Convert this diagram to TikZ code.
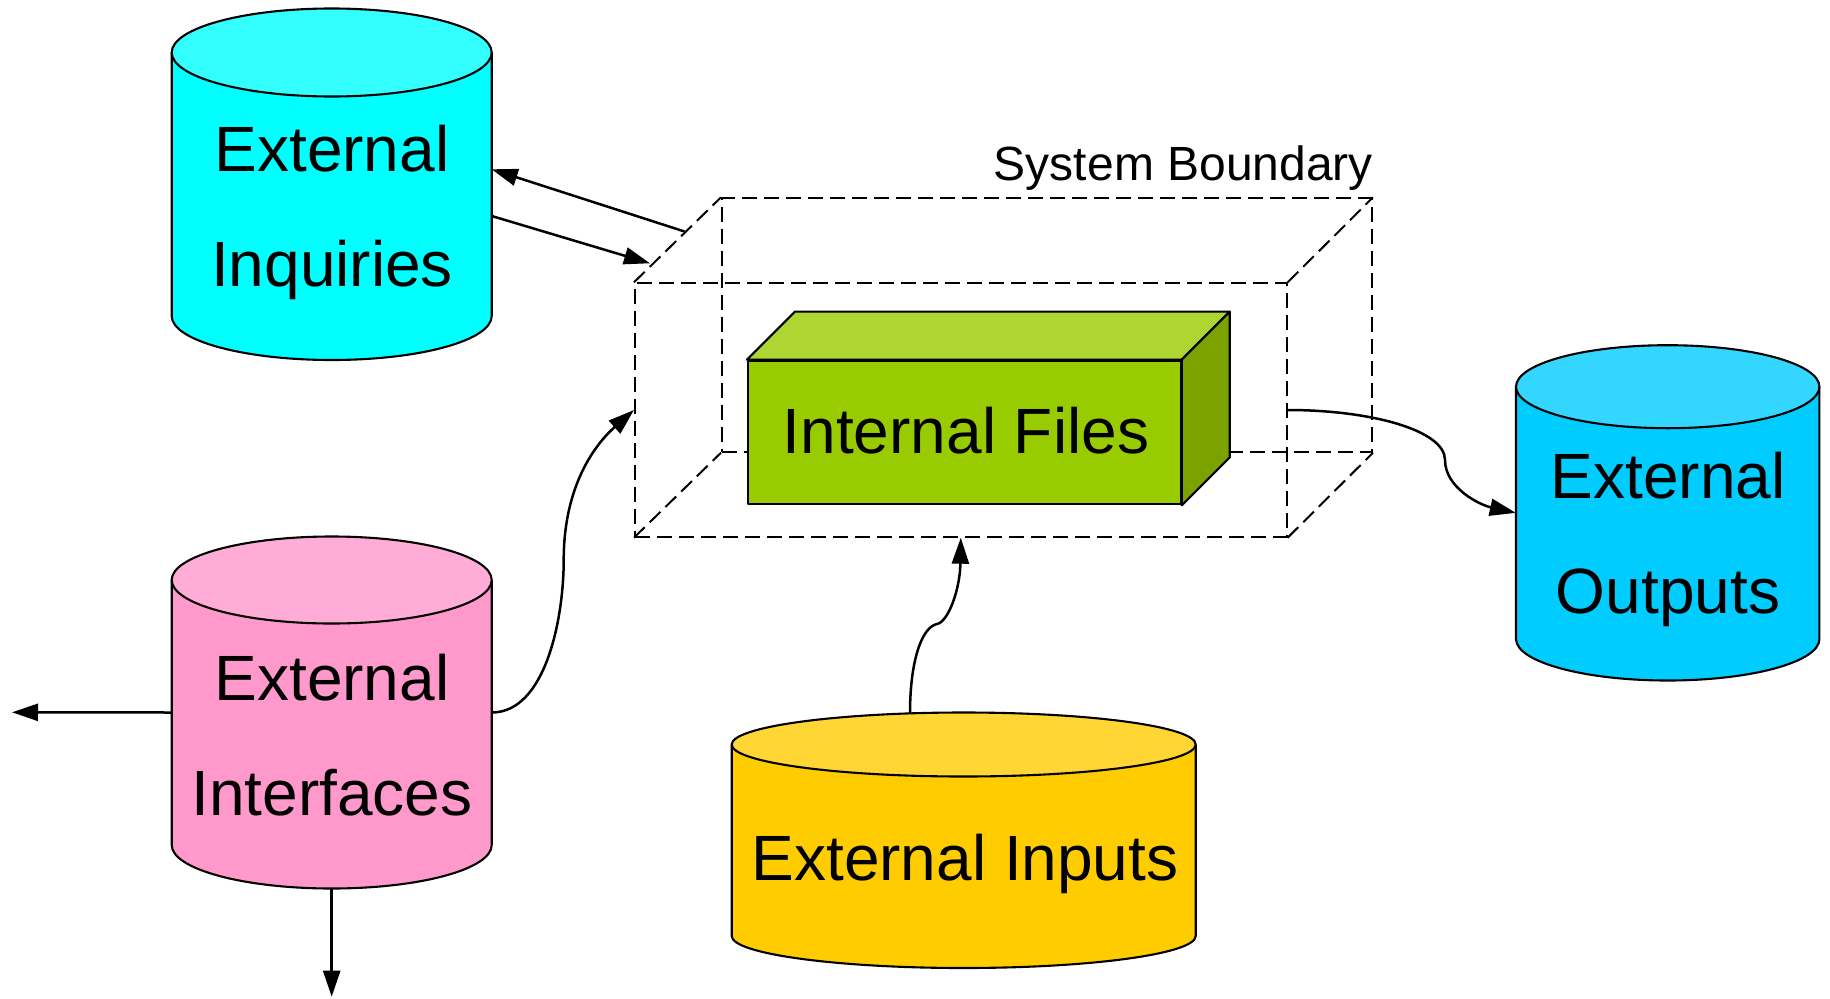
\documentclass[tikz,border=0pt]{standalone}
\usepackage{fontspec}
\setmainfont{Liberation Sans}
\usetikzlibrary{arrows.meta,calc}

\definecolor{inqbody}{RGB}{0,255,255}
\definecolor{inqtop}{RGB}{51,255,255}
\definecolor{ifbody}{RGB}{255,153,204}
\definecolor{iftop}{RGB}{255,173,214}
\definecolor{outbody}{RGB}{0,204,255}
\definecolor{outtop}{RGB}{51,214,255}
\definecolor{inbody}{RGB}{255,204,0}
\definecolor{intop}{RGB}{255,214,51}
\definecolor{filefront}{RGB}{153,204,0}
\definecolor{filetop}{RGB}{173,214,51}
\definecolor{fileside}{RGB}{122,163,0}

% database cylinder: name, cx, top-centre y, bottom-centre y, rx, ry, body colour, lid colour
\newcommand\dbcyl[8]{%
  \fill[#7] (#2-#5,#3) -- (#2-#5,#4) arc[start angle=180,end angle=0,x radius=#5,y radius=#6] -- (#2+#5,#3) -- cycle;
  \draw[cylline] (#2-#5,#3) -- (#2-#5,#4) arc[start angle=180,end angle=0,x radius=#5,y radius=#6] -- (#2+#5,#3);
  \filldraw[cylline,fill=#8] (#2,#3) ellipse[x radius=#5,y radius=#6];
  \node[inner sep=0pt,minimum width={2*#5pt},minimum height={(#4-#3+2*#6)*1pt}] (#1) at (#2,{(#3+#4)/2}) {};
}

\tikzset{
  cylline/.style={draw=black,line width=2.1pt,line join=round},
  bnd/.style={draw=black,line width=2pt,dash pattern=on 15pt off 7pt},
  conn/.style={draw=black,line width=2.5pt,-{Triangle[length=26pt,width=17pt]}},
  bigtxt/.style={font=\fontsize{64}{76}\selectfont,inner sep=0pt,anchor=base},
  smalltxt/.style={font=\fontsize{48}{58}\selectfont,inner sep=0pt,anchor=base east},
}

\begin{document}
\begin{tikzpicture}[x=1pt,y=-1pt]
\useasboundingbox (0,0) rectangle (1830,998);

% system boundary (dashed box)
\node[bnd,inner sep=0pt,minimum width=650pt,minimum height=253.4pt] (back) at (1047,325) {};
\node[bnd,inner sep=0pt,minimum width=651.7pt,minimum height=253.4pt] (front) at (960.8,410) {};
\draw[bnd] (front.north west) -- (back.north west);
\draw[bnd] (front.north east) -- (back.north east);
\draw[bnd] (front.south west) -- (back.south west);
\draw[bnd] (front.south east) -- (back.south east);
\node[smalltxt] (sblabel) at (1373,180) {System Boundary};

% internal files block
\node[cylline,fill=filefront,inner sep=0pt,minimum width=432.7pt,minimum height=143.6pt] (files) at (964.3,432.5) {};
\filldraw[cylline,fill=filetop] (files.north west) -- ++(48,-48) -- ($(files.north east)+(48,-48)$) -- (files.north east) -- cycle;
\filldraw[cylline,fill=fileside] (files.north east) -- ++(48,-48) -- ($(files.south east)+(48,-48)$) -- (files.south east) -- cycle;
\node[bigtxt] (fileslabel) at (966,453.3) {Internal Files};

% data stores
\dbcyl{inq}{331.7}{52.5}{316}{160}{44}{inqbody}{inqtop}
\node[bigtxt] at (332,171.7) {External};
\node[bigtxt] at (332,286.7) {Inquiries};

\dbcyl{ifc}{331.7}{580}{845}{160}{43.5}{ifbody}{iftop}
\node[bigtxt] at (332,700) {External};
\node[bigtxt] at (332,815) {Interfaces};

\dbcyl{out}{1667.7}{386.7}{639}{151.7}{41.5}{outbody}{outtop}
\node[bigtxt] at (1668,498) {External};
\node[bigtxt] at (1668,613) {Outputs};

\dbcyl{inp}{963.7}{744.5}{936}{232}{32}{inbody}{intop}
\node[bigtxt] at (965,880) {External Inputs};

% connector end points
\coordinate (inqA) at (491.7,169.3);
\coordinate (inqB) at (491.7,216);
\coordinate (bndA) at (684.5,231.5);
\coordinate (bndB) at (650,263.3);
\coordinate (leftEnd) at (12,712.3);
\coordinate (downEnd) at (331.7,996.7);
\coordinate (inpTop) at (910,713.4);

% connectors
\draw[conn] (bndA) -- (inqA);
\draw[conn] (inqB) -- (bndB);
\draw[conn] (ifc.west) -- (leftEnd);
\draw[conn] (ifc.south) -- (downEnd);
\draw[conn] (ifc.east) .. controls (545,712.3) and (563.7,620) .. (563.7,560)
  .. controls (563.7,480) and (600,440) .. (front.west);
\draw[conn] (front.east) .. controls (1370,410) and (1445,430) .. (1445,460)
  .. controls (1445,488) and (1480,505) .. (out.west);
\draw[conn] (inpTop) .. controls (910,660) and (922,627) .. (937,624)
  .. controls (948,622) and (960,590) .. (front.south);
\end{tikzpicture}
\end{document}
